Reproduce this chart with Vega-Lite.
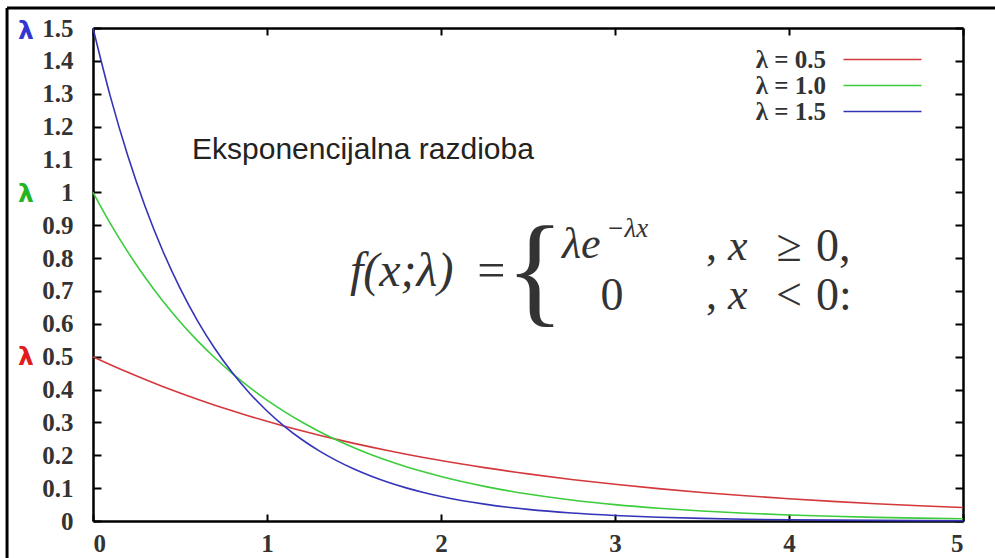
{
  "$schema": "https://vega.github.io/schema/vega-lite/v6.json",
  "width": 870,
  "height": 493,
  "autosize": {"type": "none"},
  "padding": {"left": 93, "top": 28, "right": 32, "bottom": 37},
  "background": "white",
  "config": {"view": {"stroke": null}},
  "data": {"values": [{}]},
  "resolve": {"axis": {"x": "independent", "y": "independent"}},
  "layer": [
    {
      "mark": {"type": "rule", "color": "black", "strokeWidth": 3},
      "encoding": {
        "x": {"datum": -0.494, "type": "quantitative", "axis": null},
        "x2": {"datum": 5.19},
        "y": {"datum": 1.561, "type": "quantitative", "axis": null}
      }
    },
    {
      "mark": {"type": "rule", "color": "black", "strokeWidth": 3},
      "encoding": {
        "x": {"datum": -0.494, "type": "quantitative", "axis": null},
        "y": {"datum": 1.561, "type": "quantitative", "axis": null},
        "y2": {"datum": -0.12}
      }
    },
    {
      "mark": {"type": "point", "opacity": 0},
      "encoding": {
        "x": {"datum": 0, "type": "quantitative", "axis": {"orient": "top", "values": [0, 1, 2, 3, 4, 5], "labels": false, "title": null, "grid": false, "tickSize": -7, "tickWidth": 2, "tickColor": "black", "domainColor": "black", "domainWidth": 2.5}},
        "y": {"datum": 0, "type": "quantitative", "axis": {"orient": "right", "values": [0, 0.1, 0.2, 0.3, 0.4, 0.5, 0.6, 0.7, 0.8, 0.9, 1, 1.1, 1.2, 1.3, 1.4, 1.5], "labels": false, "title": null, "grid": false, "tickSize": -8, "tickWidth": 2, "tickColor": "black", "domainColor": "black", "domainWidth": 2.5}}
      }
    },
    {
      "data": {"values": [
        {"s": "λ = 0.5", "x": 0, "y": 0.5},
        {"s": "λ = 0.5", "x": 0.1, "y": 0.4756},
        {"s": "λ = 0.5", "x": 0.2, "y": 0.4524},
        {"s": "λ = 0.5", "x": 0.3, "y": 0.4304},
        {"s": "λ = 0.5", "x": 0.4, "y": 0.4094},
        {"s": "λ = 0.5", "x": 0.5, "y": 0.3894},
        {"s": "λ = 0.5", "x": 0.6, "y": 0.3704},
        {"s": "λ = 0.5", "x": 0.7, "y": 0.3523},
        {"s": "λ = 0.5", "x": 0.8, "y": 0.3352},
        {"s": "λ = 0.5", "x": 0.9, "y": 0.3188},
        {"s": "λ = 0.5", "x": 1.0, "y": 0.3033},
        {"s": "λ = 0.5", "x": 1.1, "y": 0.2885},
        {"s": "λ = 0.5", "x": 1.2, "y": 0.2744},
        {"s": "λ = 0.5", "x": 1.3, "y": 0.2610},
        {"s": "λ = 0.5", "x": 1.4, "y": 0.2483},
        {"s": "λ = 0.5", "x": 1.5, "y": 0.2362},
        {"s": "λ = 0.5", "x": 1.6, "y": 0.2247},
        {"s": "λ = 0.5", "x": 1.7, "y": 0.2137},
        {"s": "λ = 0.5", "x": 1.8, "y": 0.2033},
        {"s": "λ = 0.5", "x": 1.9, "y": 0.1934},
        {"s": "λ = 0.5", "x": 2.0, "y": 0.1839},
        {"s": "λ = 0.5", "x": 2.25, "y": 0.1623},
        {"s": "λ = 0.5", "x": 2.5, "y": 0.1433},
        {"s": "λ = 0.5", "x": 2.75, "y": 0.1264},
        {"s": "λ = 0.5", "x": 3.0, "y": 0.1116},
        {"s": "λ = 0.5", "x": 3.25, "y": 0.0985},
        {"s": "λ = 0.5", "x": 3.5, "y": 0.0869},
        {"s": "λ = 0.5", "x": 3.75, "y": 0.0767},
        {"s": "λ = 0.5", "x": 4.0, "y": 0.0677},
        {"s": "λ = 0.5", "x": 4.25, "y": 0.0597},
        {"s": "λ = 0.5", "x": 4.5, "y": 0.0527},
        {"s": "λ = 0.5", "x": 4.75, "y": 0.0465},
        {"s": "λ = 0.5", "x": 5.0, "y": 0.0410},
        {"s": "λ = 1.0", "x": 0, "y": 1.0},
        {"s": "λ = 1.0", "x": 0.1, "y": 0.9048},
        {"s": "λ = 1.0", "x": 0.2, "y": 0.8187},
        {"s": "λ = 1.0", "x": 0.3, "y": 0.7408},
        {"s": "λ = 1.0", "x": 0.4, "y": 0.6703},
        {"s": "λ = 1.0", "x": 0.5, "y": 0.6065},
        {"s": "λ = 1.0", "x": 0.6, "y": 0.5488},
        {"s": "λ = 1.0", "x": 0.7, "y": 0.4966},
        {"s": "λ = 1.0", "x": 0.8, "y": 0.4493},
        {"s": "λ = 1.0", "x": 0.9, "y": 0.4066},
        {"s": "λ = 1.0", "x": 1.0, "y": 0.3679},
        {"s": "λ = 1.0", "x": 1.1, "y": 0.3329},
        {"s": "λ = 1.0", "x": 1.2, "y": 0.3012},
        {"s": "λ = 1.0", "x": 1.3, "y": 0.2725},
        {"s": "λ = 1.0", "x": 1.4, "y": 0.2466},
        {"s": "λ = 1.0", "x": 1.5, "y": 0.2231},
        {"s": "λ = 1.0", "x": 1.6, "y": 0.2019},
        {"s": "λ = 1.0", "x": 1.7, "y": 0.1827},
        {"s": "λ = 1.0", "x": 1.8, "y": 0.1653},
        {"s": "λ = 1.0", "x": 1.9, "y": 0.1496},
        {"s": "λ = 1.0", "x": 2.0, "y": 0.1353},
        {"s": "λ = 1.0", "x": 2.25, "y": 0.1054},
        {"s": "λ = 1.0", "x": 2.5, "y": 0.0821},
        {"s": "λ = 1.0", "x": 2.75, "y": 0.0639},
        {"s": "λ = 1.0", "x": 3.0, "y": 0.0498},
        {"s": "λ = 1.0", "x": 3.25, "y": 0.0388},
        {"s": "λ = 1.0", "x": 3.5, "y": 0.0302},
        {"s": "λ = 1.0", "x": 3.75, "y": 0.0235},
        {"s": "λ = 1.0", "x": 4.0, "y": 0.0183},
        {"s": "λ = 1.0", "x": 4.25, "y": 0.0143},
        {"s": "λ = 1.0", "x": 4.5, "y": 0.0111},
        {"s": "λ = 1.0", "x": 4.75, "y": 0.0087},
        {"s": "λ = 1.0", "x": 5.0, "y": 0.0067},
        {"s": "λ = 1.5", "x": 0, "y": 1.5},
        {"s": "λ = 1.5", "x": 0.1, "y": 1.2911},
        {"s": "λ = 1.5", "x": 0.2, "y": 1.1112},
        {"s": "λ = 1.5", "x": 0.3, "y": 0.9564},
        {"s": "λ = 1.5", "x": 0.4, "y": 0.8232},
        {"s": "λ = 1.5", "x": 0.5, "y": 0.7086},
        {"s": "λ = 1.5", "x": 0.6, "y": 0.6099},
        {"s": "λ = 1.5", "x": 0.7, "y": 0.5249},
        {"s": "λ = 1.5", "x": 0.8, "y": 0.4518},
        {"s": "λ = 1.5", "x": 0.9, "y": 0.3889},
        {"s": "λ = 1.5", "x": 1.0, "y": 0.3347},
        {"s": "λ = 1.5", "x": 1.1, "y": 0.2881},
        {"s": "λ = 1.5", "x": 1.2, "y": 0.2479},
        {"s": "λ = 1.5", "x": 1.3, "y": 0.2134},
        {"s": "λ = 1.5", "x": 1.4, "y": 0.1837},
        {"s": "λ = 1.5", "x": 1.5, "y": 0.1581},
        {"s": "λ = 1.5", "x": 1.6, "y": 0.1361},
        {"s": "λ = 1.5", "x": 1.7, "y": 0.1171},
        {"s": "λ = 1.5", "x": 1.8, "y": 0.1008},
        {"s": "λ = 1.5", "x": 1.9, "y": 0.0868},
        {"s": "λ = 1.5", "x": 2.0, "y": 0.0747},
        {"s": "λ = 1.5", "x": 2.25, "y": 0.0513},
        {"s": "λ = 1.5", "x": 2.5, "y": 0.0353},
        {"s": "λ = 1.5", "x": 2.75, "y": 0.0242},
        {"s": "λ = 1.5", "x": 3.0, "y": 0.0167},
        {"s": "λ = 1.5", "x": 3.25, "y": 0.0115},
        {"s": "λ = 1.5", "x": 3.5, "y": 0.0079},
        {"s": "λ = 1.5", "x": 3.75, "y": 0.0054},
        {"s": "λ = 1.5", "x": 4.0, "y": 0.0037},
        {"s": "λ = 1.5", "x": 4.25, "y": 0.0026},
        {"s": "λ = 1.5", "x": 4.5, "y": 0.0018},
        {"s": "λ = 1.5", "x": 4.75, "y": 0.0012},
        {"s": "λ = 1.5", "x": 5.0, "y": 0.0008}
      ]},
      "mark": {"type": "line", "interpolate": "monotone", "strokeWidth": 1.6},
      "encoding": {
        "x": {"field": "x", "type": "quantitative", "scale": {"domain": [0, 5], "nice": false, "zero": false},
          "axis": {"orient": "bottom", "values": [0, 1, 2, 3, 4, 5], "format": "d", "title": null, "grid": false, "tickSize": -7, "tickWidth": 2, "tickColor": "black", "domainColor": "black", "domainWidth": 2.5, "labelFont": "Liberation Serif", "labelFontSize": 25, "labelFontWeight": "bold", "labelColor": "#333", "labelPadding": 17}},
        "y": {"field": "y", "type": "quantitative", "scale": {"domain": [0, 1.5], "nice": false, "zero": false},
          "axis": {"orient": "left", "values": [0, 0.1, 0.2, 0.3, 0.4, 0.5, 0.6, 0.7, 0.8, 0.9, 1, 1.1, 1.2, 1.3, 1.4, 1.5], "format": "~g", "title": null, "grid": false, "tickSize": -8, "tickWidth": 2, "tickColor": "black", "domainColor": "black", "domainWidth": 2.5, "labelFont": "Liberation Serif", "labelFontSize": 25, "labelFontWeight": "bold", "labelColor": "#333", "labelPadding": 28}},
        "color": {"field": "s", "type": "nominal",
          "scale": {"domain": ["λ = 0.5", "λ = 1.0", "λ = 1.5"], "range": ["#d4383c", "#3ccc3c", "#3434b8"]},
          "legend": {"orient": "none", "legendX": 777, "legendY": 19, "title": null, "symbolType": "M-4,0H4", "symbolSize": 380, "symbolStrokeWidth": 1.6, "labelAlign": "right", "labelOffset": -69, "labelFont": "Liberation Serif", "labelFontSize": 25, "labelFontWeight": "bold", "labelColor": "#333", "padding": 0, "rowPadding": -2}}
      }
    },
    {
      "mark": {"type": "text", "font": "DejaVu Sans", "fontSize": 25, "fontWeight": "bold", "align": "center", "baseline": "middle", "color": "#3434d0"},
      "encoding": {"x": {"datum": -0.385, "type": "quantitative", "axis": null}, "y": {"datum": 1.49, "type": "quantitative", "axis": null}, "text": {"value": "λ"}}
    },
    {
      "mark": {"type": "text", "font": "DejaVu Sans", "fontSize": 25, "fontWeight": "bold", "align": "center", "baseline": "middle", "color": "#22b422"},
      "encoding": {"x": {"datum": -0.385, "type": "quantitative", "axis": null}, "y": {"datum": 0.995, "type": "quantitative", "axis": null}, "text": {"value": "λ"}}
    },
    {
      "mark": {"type": "text", "font": "DejaVu Sans", "fontSize": 25, "fontWeight": "bold", "align": "center", "baseline": "middle", "color": "#e01c1c"},
      "encoding": {"x": {"datum": -0.385, "type": "quantitative", "axis": null}, "y": {"datum": 0.5, "type": "quantitative", "axis": null}, "text": {"value": "λ"}}
    },
    {
      "mark": {"type": "text", "font": "Liberation Sans", "fontSize": 30, "align": "left", "baseline": "middle", "color": "#222"},
      "encoding": {"x": {"datum": 0.569, "type": "quantitative", "axis": null}, "y": {"datum": 1.129, "type": "quantitative", "axis": null}, "text": {"value": "Eksponencijalna razdioba"}}
    },
    {
      "mark": {"type": "text", "font": "Liberation Serif", "fontSize": 48, "fontStyle": "italic", "align": "left", "baseline": "middle", "color": "#333"},
      "encoding": {"x": {"datum": 1.477, "type": "quantitative", "axis": null}, "y": {"datum": 0.758, "type": "quantitative", "axis": null}, "text": {"value": "f(x;λ)"}}
    },
    {
      "mark": {"type": "text", "font": "Liberation Serif", "fontSize": 50, "align": "center", "baseline": "middle", "color": "#333"},
      "encoding": {"x": {"datum": 2.29, "type": "quantitative", "axis": null}, "y": {"datum": 0.758, "type": "quantitative", "axis": null}, "text": {"value": "="}}
    },
    {
      "mark": {"type": "text", "font": "Liberation Serif", "fontSize": 122, "align": "center", "baseline": "middle", "color": "#333"},
      "encoding": {"x": {"datum": 2.54, "type": "quantitative", "axis": null}, "y": {"datum": 0.752, "type": "quantitative", "axis": null}, "text": {"value": "{"}}
    },
    {
      "mark": {"type": "text", "font": "Liberation Serif", "fontSize": 44, "fontStyle": "italic", "align": "left", "baseline": "middle", "color": "#333"},
      "encoding": {"x": {"datum": 2.695, "type": "quantitative", "axis": null}, "y": {"datum": 0.84, "type": "quantitative", "axis": null}, "text": {"value": "λe"}}
    },
    {
      "mark": {"type": "text", "font": "Liberation Serif", "fontSize": 27, "fontStyle": "italic", "align": "left", "baseline": "middle", "color": "#333"},
      "encoding": {"x": {"datum": 2.95, "type": "quantitative", "axis": null}, "y": {"datum": 0.888, "type": "quantitative", "axis": null}, "text": {"value": "−λx"}}
    },
    {
      "mark": {"type": "text", "font": "Liberation Serif", "fontSize": 44, "align": "left", "baseline": "middle", "color": "#333"},
      "encoding": {"x": {"datum": 3.523, "type": "quantitative", "axis": null}, "y": {"datum": 0.834, "type": "quantitative", "axis": null}, "text": {"value": ","}}
    },
    {
      "mark": {"type": "text", "font": "Liberation Serif", "fontSize": 44, "fontStyle": "italic", "align": "left", "baseline": "middle", "color": "#333"},
      "encoding": {"x": {"datum": 3.649, "type": "quantitative", "axis": null}, "y": {"datum": 0.834, "type": "quantitative", "axis": null}, "text": {"value": "x"}}
    },
    {
      "mark": {"type": "text", "font": "Liberation Serif", "fontSize": 46, "align": "center", "baseline": "middle", "color": "#333"},
      "encoding": {"x": {"datum": 4.0, "type": "quantitative", "axis": null}, "y": {"datum": 0.834, "type": "quantitative", "axis": null}, "text": {"value": "≥"}}
    },
    {
      "mark": {"type": "text", "font": "Liberation Serif", "fontSize": 46, "align": "left", "baseline": "middle", "color": "#333"},
      "encoding": {"x": {"datum": 4.155, "type": "quantitative", "axis": null}, "y": {"datum": 0.834, "type": "quantitative", "axis": null}, "text": {"value": "0,"}}
    },
    {
      "mark": {"type": "text", "font": "Liberation Serif", "fontSize": 46, "align": "center", "baseline": "middle", "color": "#333"},
      "encoding": {"x": {"datum": 2.983, "type": "quantitative", "axis": null}, "y": {"datum": 0.685, "type": "quantitative", "axis": null}, "text": {"value": "0"}}
    },
    {
      "mark": {"type": "text", "font": "Liberation Serif", "fontSize": 44, "align": "left", "baseline": "middle", "color": "#333"},
      "encoding": {"x": {"datum": 3.523, "type": "quantitative", "axis": null}, "y": {"datum": 0.685, "type": "quantitative", "axis": null}, "text": {"value": ","}}
    },
    {
      "mark": {"type": "text", "font": "Liberation Serif", "fontSize": 44, "fontStyle": "italic", "align": "left", "baseline": "middle", "color": "#333"},
      "encoding": {"x": {"datum": 3.649, "type": "quantitative", "axis": null}, "y": {"datum": 0.685, "type": "quantitative", "axis": null}, "text": {"value": "x"}}
    },
    {
      "mark": {"type": "text", "font": "Liberation Serif", "fontSize": 46, "align": "center", "baseline": "middle", "color": "#333"},
      "encoding": {"x": {"datum": 4.0, "type": "quantitative", "axis": null}, "y": {"datum": 0.685, "type": "quantitative", "axis": null}, "text": {"value": "<"}}
    },
    {
      "mark": {"type": "text", "font": "Liberation Serif", "fontSize": 46, "align": "left", "baseline": "middle", "color": "#333"},
      "encoding": {"x": {"datum": 4.155, "type": "quantitative", "axis": null}, "y": {"datum": 0.685, "type": "quantitative", "axis": null}, "text": {"value": "0:"}}
    }
  ]
}
